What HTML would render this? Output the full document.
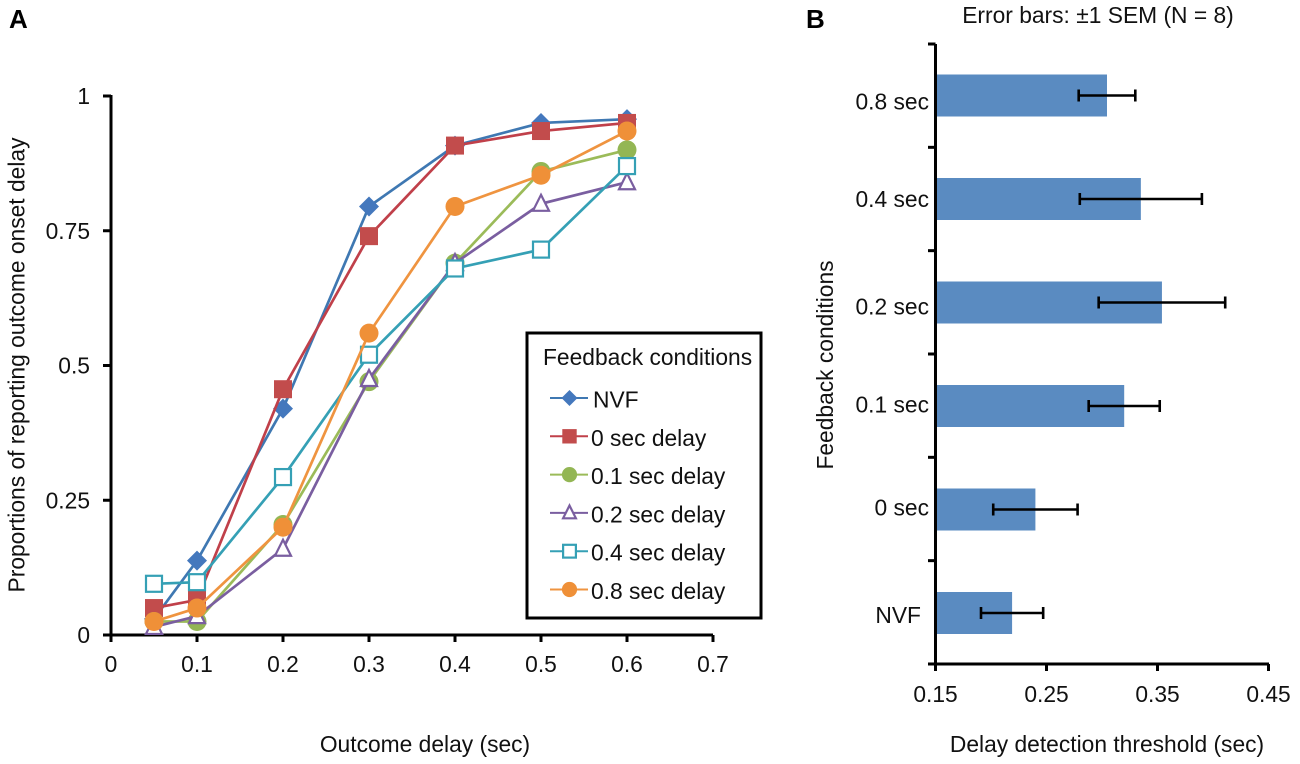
<!DOCTYPE html>
<html><head><meta charset="utf-8"><title>Chart</title>
<style>
html,body{margin:0;padding:0;background:#fff;width:1300px;height:764px;overflow:hidden}
svg{display:block;font-family:"Liberation Sans",Arial,sans-serif;fill:#111}
</style></head>
<body>
<svg id="chart" width="1300" height="764" viewBox="0 0 1300 764" xmlns="http://www.w3.org/2000/svg">
<text x="9" y="28" font-size="26" font-weight="bold" fill="#000">A</text>
<text x="806" y="28" font-size="26" font-weight="bold" fill="#000">B</text>
<text x="1098" y="23" font-size="22.8" text-anchor="middle">Error bars: ±1 SEM (N = 8)</text>
<text x="425" y="752" font-size="22.8" text-anchor="middle">Outcome delay (sec)</text>
<text transform="translate(24.5,365) rotate(-90)" font-size="22.8" text-anchor="middle">Proportions of reporting outcome onset delay</text>
<text x="1107" y="752" font-size="22.8" text-anchor="middle">Delay detection threshold (sec)</text>
<text transform="translate(833,365) rotate(-90)" font-size="22.8" text-anchor="middle">Feedback conditions</text>
<g id="panelA"></g>
<g id="panelB"></g>
<g id="legend"></g>
</svg>
<script>
// Panel A data
const delays = [0.05, 0.1, 0.2, 0.3, 0.4, 0.5, 0.6];
const seriesNames = ['NVF', '0 sec delay', '0.1 sec delay', '0.2 sec delay', '0.4 sec delay', '0.8 sec delay'];
const nvfValues = [0.03, 0.138, 0.42, 0.795, 0.908, 0.95, 0.957];
const zeroDelayValues = [0.05, 0.065, 0.456, 0.74, 0.908, 0.935, 0.95];
const tenthDelayValues = [0.025, 0.025, 0.205, 0.47, 0.69, 0.86, 0.90];
const fifthDelayValues = [0.015, 0.035, 0.16, 0.475, 0.69, 0.80, 0.84];
const fourTenthsDelayValues = [0.095, 0.098, 0.293, 0.52, 0.68, 0.715, 0.87];
const eightTenthsDelayValues = [0.025, 0.05, 0.2, 0.56, 0.795, 0.853, 0.935];
const xTicksA = [0, 0.1, 0.2, 0.3, 0.4, 0.5, 0.6, 0.7];
const yTicksA = [0, 0.25, 0.5, 0.75, 1];
// Panel B data
const conditions = ['0.8 sec', '0.4 sec', '0.2 sec', '0.1 sec', '0 sec', 'NVF'];
const thresholds = [0.3045, 0.335, 0.354, 0.32, 0.24, 0.219];
const sems = [0.0255, 0.055, 0.057, 0.032, 0.038, 0.028];
const xTicksB = [0.15, 0.25, 0.35, 0.45];

const NS = 'http://www.w3.org/2000/svg';
function mk(parent, tag, attrs, text) {
  const el = document.createElementNS(NS, tag);
  for (const k in attrs) el.setAttribute(k, attrs[k]);
  if (text !== undefined) el.textContent = text;
  parent.appendChild(el);
  return el;
}
const xA = v => 111 + v * 860;
const yA = v => 635 - v * 539;
const xB = v => 935.5 + (v - 0.15) * 1110;
const yB = i => 95.5 + i * 103.5;

const styles = [
  {color:'#3f78b2', mark:'diamond', fill:'#4478bd'},
  {color:'#c0404a', mark:'square', fill:'#c24c4c'},
  {color:'#9bbb59', mark:'circle', fill:'#93b654'},
  {color:'#7a5ea0', mark:'triangle', fill:'#fff'},
  {color:'#35a0b5', mark:'square-open', fill:'#fff'},
  {color:'#ef9440', mark:'circle', fill:'#ef9038'}
];

function marker(parent, kind, x, y, c, fill, k) {
  let el;
  if (kind === 'diamond') {
    const r = 10 * k;
    el = mk(parent, 'polygon', {points:`${x},${y-r} ${x+r},${y} ${x},${y+r} ${x-r},${y}`, fill:fill});
  } else if (kind === 'square') {
    const r = 9 * k;
    el = mk(parent, 'rect', {x:x-r, y:y-r, width:2*r, height:2*r, fill:fill});
  } else if (kind === 'square-open') {
    const r = 8 * k;
    el = mk(parent, 'rect', {x:x-r, y:y-r, width:2*r, height:2*r, fill:fill, stroke:c, 'stroke-width':2.2});
  } else if (kind === 'circle') {
    el = mk(parent, 'circle', {cx:x, cy:y, r:9.5 * k, fill:fill});
  } else {
    const r = 8 * k;
    el = mk(parent, 'polygon', {points:`${x},${y-r-1} ${x+r},${y+r-1} ${x-r},${y+r-1}`, fill:fill, stroke:c, 'stroke-width':2.2});
  }
  return el;
}

// Panel A
const A = document.getElementById('panelA');
const ax = {stroke:'#000', 'stroke-width':3, fill:'none'};
const xAxisA = mk(A, 'line', {x1:103, y1:635, x2:713, y2:635, ...ax});


const yAxisA = mk(A, 'line', {x1:111, y1:95, x2:111, y2:642, ...ax});


xTicksA.forEach(t => {
  mk(A, 'line', {x1:xA(t), y1:635, x2:xA(t), y2:642, ...ax});
  const label = mk(A, 'text', {x:xA(t), y:672, 'font-size':22.8, 'text-anchor':'middle'}, String(t));
  
  
});
yTicksA.forEach(t => {
  mk(A, 'line', {x1:103, y1:yA(t), x2:111, y2:yA(t), ...ax});
  const label = mk(A, 'text', {x:90, y:yA(t)+8, 'font-size':22.8, 'text-anchor':'end'}, String(t));
  
  
});
const allSeries = [nvfValues, zeroDelayValues, tenthDelayValues, fifthDelayValues, fourTenthsDelayValues, eightTenthsDelayValues];
allSeries.forEach((vals, s) => {
  const st = styles[s];
  const g = mk(A, 'g', {});
  
  
  mk(g, 'polyline', {points: vals.map((v, i) => xA(delays[i]) + ',' + yA(v)).join(' '), fill:'none', stroke:st.color, 'stroke-width':2.7});
  vals.forEach((v, i) => {
    const m = marker(g, st.mark, xA(delays[i]), yA(v), st.color, st.fill, 1);
    
    
  });
});

// Legend
const L = document.getElementById('legend');
mk(L, 'rect', {x:527, y:333, width:234, height:285, fill:'#fff', stroke:'#000', 'stroke-width':3});
const legendTitle = mk(L, 'text', {x:543, y:365, 'font-size':22.8}, 'Feedback conditions');


seriesNames.forEach((name, i) => {
  const y = 398 + i * 38.3;
  const st = styles[i];
  const g = mk(L, 'g', {});
  
  
  mk(g, 'line', {x1:550, y1:y, x2:588, y2:y, stroke:st.color, 'stroke-width':2});
  marker(g, st.mark, 569.5, y, st.color, st.fill, 0.8);
  mk(g, 'text', {x:i === 0 ? 593 : 591, y:y+9.5, 'font-size':22.8}, name);
});

// Panel B
const B = document.getElementById('panelB');
const labelNudge = i => [14, 8, 12, 6.5, 6, 10][i];
conditions.forEach((name, i) => {
  const y = yB(i);
  const bar = mk(B, 'rect', {x:xB(0.15), y:y-21, width:xB(thresholds[i])-xB(0.15), height:42, fill:'#5a8bc1'});
  
  
  const lo = xB(thresholds[i] - sems[i]), hi = xB(thresholds[i] + sems[i]);
  const err = mk(B, 'path', {d:`M${lo},${y}H${hi}M${lo},${y-6}V${y+6}M${hi},${y-6}V${y+6}`, fill:'none', stroke:'#000', 'stroke-width':2.6});
  
  
  const label = mk(B, 'text', {x:name === 'NVF' ? 921 : 929, y:y+labelNudge(i), 'font-size':22.8, 'text-anchor':'end'}, name);
  
  
});
const yAxisB = mk(B, 'line', {x1:935.5, y1:44, x2:935.5, y2:670, ...ax});


const xAxisB = mk(B, 'line', {x1:928, y1:664, x2:1269, y2:664, ...ax});


for (let i = 0; i <= conditions.length; i++) {
  const y = 44 + i * 103.33;
  mk(B, 'line', {x1:928, y1:y, x2:935.5, y2:y, ...ax});
}
xTicksB.forEach(t => {
  mk(B, 'line', {x1:xB(t), y1:664, x2:xB(t), y2:671, ...ax});
  const label = mk(B, 'text', {x:xB(t), y:702, 'font-size':22.8, 'text-anchor':'middle'}, String(t));
  
  
});
</script>
</body></html>
